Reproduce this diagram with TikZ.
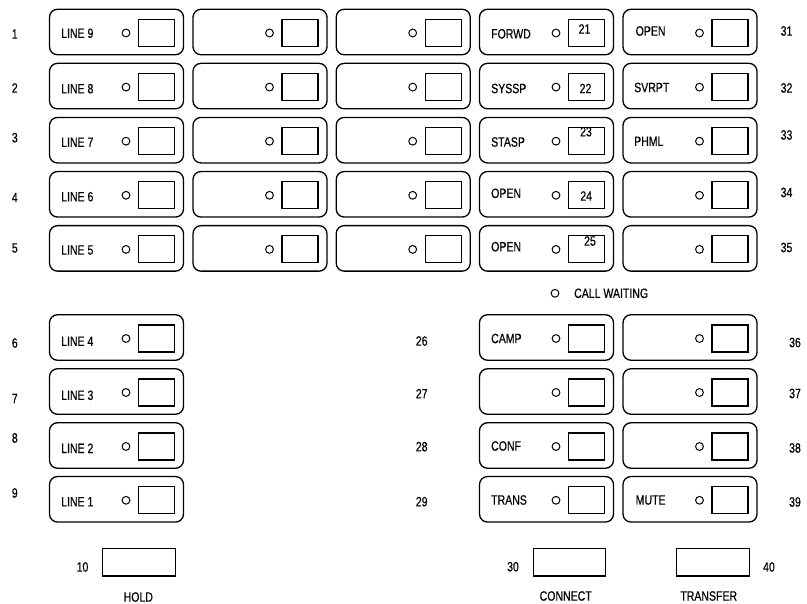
\documentclass[tikz,border=0pt]{standalone}
\usepackage{fontspec}
\setmainfont{Liberation Sans}[FakeStretch=0.78,FakeBold=0.5]
\begin{document}
\begin{tikzpicture}[x=1pt,y=-1pt,
  keybox/.style={draw, rounded corners=8pt, minimum width=134pt, minimum height=45.5pt, inner sep=0pt, line width=1.3pt},
  lamp/.style={draw, circle, minimum size=7.8pt, inner sep=0pt, line width=1pt},
  keysq/.style={draw, minimum width=36pt, minimum height=27pt, inner sep=0pt, line width=1.1pt},
  widesq/.style={draw, minimum width=72.5pt, minimum height=27.5pt, inner sep=0pt, line width=1.1pt},
  lbl/.style={anchor=west, inner sep=0pt},
  num/.style={inner sep=0pt},
  every node/.append style={font=\fontsize{13.5}{15}\selectfont}]
\useasboundingbox (0,0) rectangle (807,604);
\newcommand\mkkey[3]{%
  \node[keybox] (#1) at (#2,#3) {};
  \node[lamp] (#1l) at ([xshift=9.5pt,yshift=-1pt]#1.center) {};
  \node[keysq] (#1s) at ([xshift=40pt,yshift=-1pt]#1.center) {};
}
% upper block
\foreach \c/\x in {1/116.5,2/260,3/403.2,4/546.5,5/690}{
  \foreach \r/\y in {1/32,2/86.1,3/140.2,4/194.3,5/248.4}{
    \mkkey{k\c\r}{\x}{\y}
  }
}
% lower block
\foreach \c/\x in {1/116.5,4/546.5,5/690}{
  \foreach \r/\y in {6/337.5,7/391.5,8/445.5,9/499.3}{
    \mkkey{k\c\r}{\x}{\y}
  }
}
% labels column 1
\node[lbl] (t11) at (61,33.3) {LINE 9};
\node[lbl] (t12) at (61,88.7) {LINE 8};
\node[lbl] (t13) at (61,142.3) {LINE 7};
\node[lbl] (t14) at (61,196.7) {LINE 6};
\node[lbl] (t15) at (61,250) {LINE 5};
\node[lbl] (t16) at (61,341.3) {LINE 4};
\node[lbl] (t17) at (61,395.3) {LINE 3};
\node[lbl] (t18) at (61,448.3) {LINE 2};
\node[lbl] (t19) at (61,501.7) {LINE 1};
% labels column 4
\node[lbl] (t41) at (491,33.8) {FORWD};
\node[lbl] (t42) at (491,88.5) {SYSSP};
\node[lbl] (t43) at (491,142) {STASP};
\node[lbl] (t44) at (491,193.3) {OPEN};
\node[lbl] (t45) at (491,246.7) {OPEN};
\node[lbl] (t46) at (491,338.5) {CAMP};
\node[lbl] (t48) at (491,446) {CONF};
\node[lbl] (t49) at (491,500) {TRANS};
% labels column 5
\node[lbl] (t51) at (635.5,31) {OPEN};
\node[lbl] (t52) at (634,87.5) {SVRPT};
\node[lbl] (t53) at (634,141.3) {PHML};
\node[lbl] (t59) at (635.5,500) {MUTE};
% numbers in squares
\node[num] (n21) at (584.5,29) {21};
\node[num] (n22) at (585.5,88.5) {22};
\node[num] (n23) at (586,131.7) {23};
\node[num] (n24) at (586.2,196) {24};
\node[num] (n25) at (590,241) {25};
% left numbers
\foreach \n/\y in {1/34,2/88,3/137.7,4/197.5,5/248,6/343,7/398.5,8/438,9/493}{
  \node[num] (nl\n) at (14.8,\y) {\n};
}
% middle numbers
\foreach \n/\y in {26/341,27/393.7,28/446.7,29/501.7}{
  \node[num] (nm\n) at (421.7,\y) {\n};
}
% right numbers
\foreach \n/\y in {31/31,32/88,33/135,34/192.5,35/247.5}{
  \node[num] (nr\n) at (786.5,\y) {\n};
}
\foreach \n/\y in {36/342.5,37/393.5,38/448,39/502}{
  \node[num] (nr\n) at (795,\y) {\n};
}
% call waiting
\node[lamp] (cwl) at (555,293.3) {};
\node[lbl] (cwt) at (574,293.3) {CALL WAITING};
% bottom keys
\node[widesq] (hold) at (139,562.2) {};
\node[widesq] (conn) at (569.5,562.2) {};
\node[widesq] (trans) at (713,562.2) {};
\node[num] (n10) at (82.5,567) {10};
\node[num] (n30) at (513,566.7) {30};
\node[num] (n40) at (769,567) {40};
\node[num] (tholdl) at (138.3,597) {HOLD};
\node[num] (tconn) at (565.7,596) {CONNECT};
\node[num] (ttrans) at (708.7,596) {TRANSFER};
\end{tikzpicture}
\end{document}
